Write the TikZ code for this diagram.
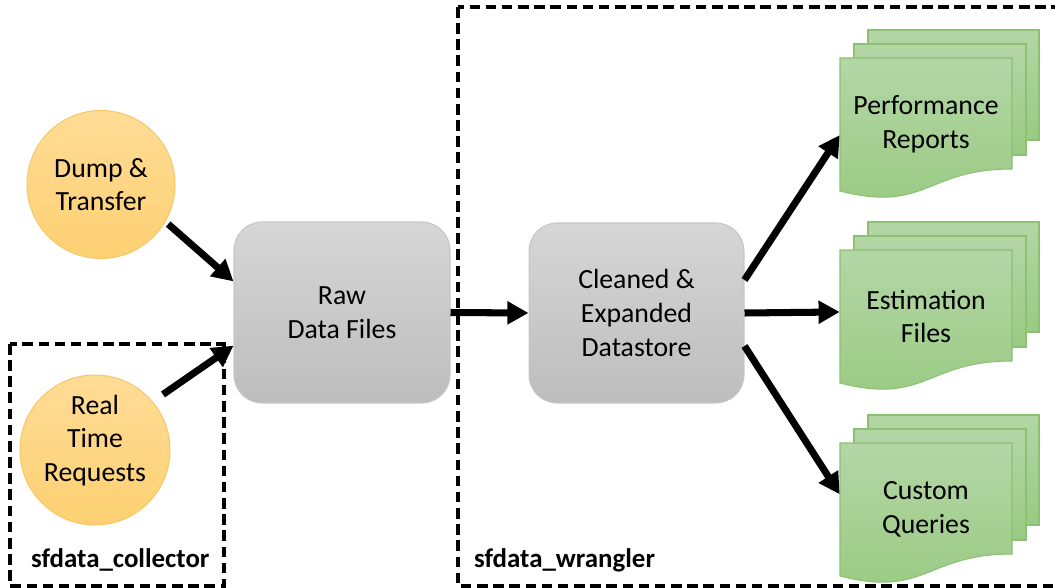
\documentclass[tikz,border=0pt]{standalone}
\usepackage{fontspec}
\setmainfont{Carlito}
\usetikzlibrary{arrows.meta}

\definecolor{srcTop}{RGB}{255,220,150}
\definecolor{srcBot}{RGB}{253,208,114}
\definecolor{srcLine}{RGB}{246,200,104}
\definecolor{boxTop}{RGB}{214,214,214}
\definecolor{boxBot}{RGB}{189,189,189}
\definecolor{boxLine}{RGB}{198,198,198}
\definecolor{docTop}{RGB}{180,214,166}
\definecolor{docBot}{RGB}{153,202,130}
\definecolor{docLine}{RGB}{140,192,115}

% three stacked pages; #1 name of the text node, #2 top-left corner of the front page, #3 text
\newcommand{\docstack}[3]{%
  \begin{scope}[shift={#2}]
    \path[page] (28,-28) rectangle (199,82);
    \path[page] (14,-14) rectangle (186,97);
    \path[page] (0,0) -- (172,0) -- (172,111)
      .. controls (86,111) and (86,155) .. (0,133) -- cycle;
    \node[docnode] (#1) at (86,66.5) {#3};
  \end{scope}
}

\begin{document}
\begin{tikzpicture}[x=0.02cm,y=-0.02cm,
  every node/.style={font=\fontsize{15.8}{19.2}\selectfont, text=black},
  source/.style={circle, draw=srcLine, line width=0.6pt,
    top color=srcTop, bottom color=srcBot, minimum size=#1, inner sep=0pt, align=center},
  store/.style={rectangle, rounded corners=16pt, draw=boxLine, line width=0.6pt,
    top color=boxTop, bottom color=boxBot,
    minimum width=4.32cm, minimum height=3.62cm, align=center},
  docnode/.style={rectangle, minimum width=3.44cm, minimum height=2.66cm,
    inner sep=0pt, align=center},
  page/.style={draw=docLine, line width=0.6pt, top color=docTop, bottom color=docBot},
  flow/.style={line width=4pt, -{Triangle[length=12pt,width=12.5pt]}},
  group/.style={line width=1.8pt, dash pattern=on 6pt off 3.2pt},
  grouplabel/.style={font=\fontsize{15.3}{18}\selectfont\bfseries, anchor=base west}
]
\clip (0,0) rectangle (1055,588);

% package boundaries
\draw[group] (10,344) rectangle (224,586);
\node[grouplabel] (collector) at (25,567) {sfdata\_collector};
\draw[group] (458,7) rectangle (1070,586);
\node[grouplabel] (wrangler) at (468,567) {sfdata\_wrangler};

% sources
\node[source=2.96cm] (dump) at (101,184.5) {Dump \&\\Transfer};
\node[source=3cm] (rtreq) at (95,450) {};
\node[align=center] (rtreqtext) at ([yshift=5.5pt]rtreq.center) {Real\\Time\\Requests};

% data stores
\node[store] (raw) at (342,312.5) {Raw\\Data Files};
\node[store, minimum width=4.3cm, minimum height=3.6cm] (cds) at (636.5,313) {Cleaned \&\\Expanded\\Datastore};

% outputs
\docstack{perf}{(840,58)}{Performance\\Reports}
\docstack{est}{(840,250)}{Estimation\\Files}
\docstack{cust}{(840,443)}{Custom\\Queries}

% flows
\draw[flow, shorten <=2pt] (dump.-30) -- (raw.164);
\draw[flow, shorten <=7pt] (rtreq.40) -- (raw.197);
\draw[flow] (raw.east) -- (cds.west);
\draw[flow] (cds.17) -- (perf.187);
\draw[flow] (cds.east) -- (est.177);
\draw[flow] (cds.-17) -- (cust.170);
\end{tikzpicture}
\end{document}
